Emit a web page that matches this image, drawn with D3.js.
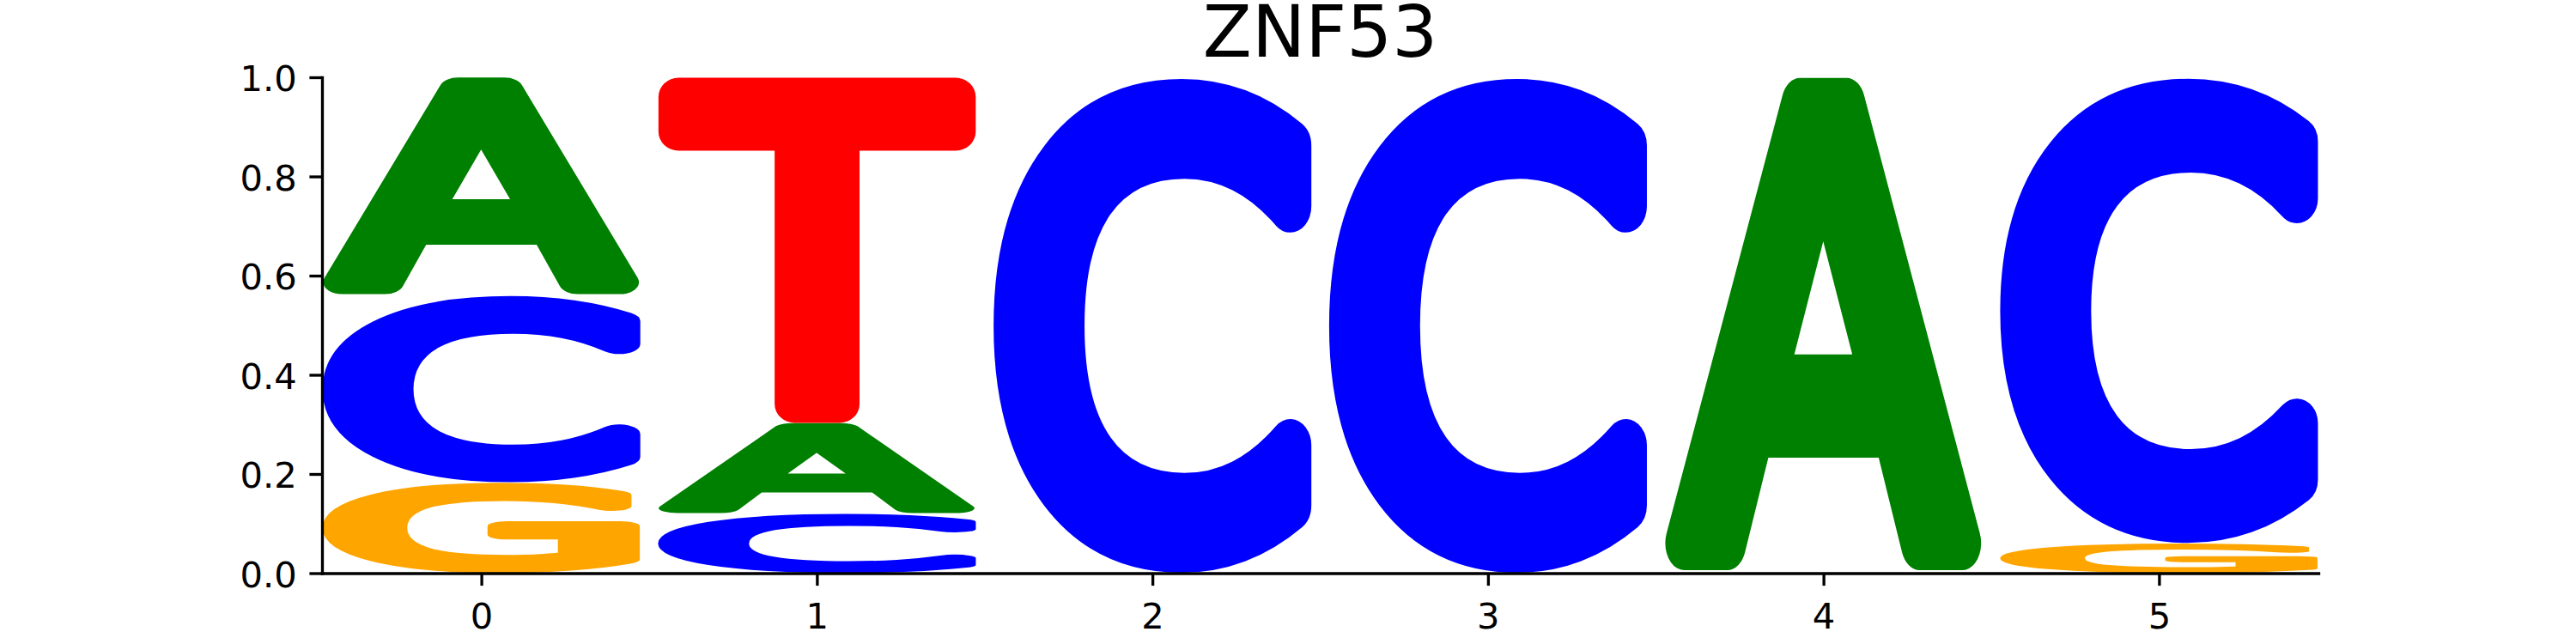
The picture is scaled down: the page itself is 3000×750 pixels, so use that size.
<!DOCTYPE html>
<html>
<head>
<meta charset="utf-8">
<script src="https://cdn.jsdelivr.net/npm/d3@7"></script>
<style>
  body { margin: 0; background: #fff; }
  svg text { font-family: "DejaVu Sans", sans-serif; }
</style>
</head>
<body>
<svg id="chart" width="3000" height="750"></svg>
<script>
const positions = [0, 1, 2, 3, 4, 5];
const letters = ["A", "C", "G", "T"];
const valuesA = [0.44, 0.183, 0, 0, 1.0, 0];
const valuesC = [0.377, 0.12, 1.0, 1.0, 0, 0.94];
const valuesG = [0.183, 0, 0, 0, 0, 0.06];
const valuesT = [0, 0.697, 0, 0, 0, 0];
const yTicks = [0, 0.2, 0.4, 0.6, 0.8, 1.0];
const title = "ZNF53";

const colors = { A: "#008000", C: "#0000ff", G: "#ffa500", T: "#ff0000" };
const seriesByLetter = { A: valuesA, C: valuesC, G: valuesG, T: valuesT };

const width = 3000, height = 750;
const margin = { left: 375, right: 300, top: 90, bottom: 82.5 };
const glyphWidth = 0.95;

const svg = d3.select("#chart");

const x = d3.scaleLinear()
  .domain([positions[0] - glyphWidth / 2, positions[positions.length - 1] + glyphWidth / 2])
  .range([margin.left, width - margin.right]);
const y = d3.scaleLinear()
  .domain([0, 1])
  .range([height - margin.bottom, margin.top]);

// glyphs: book weight plus a round-joined outline gives the soft, heavy letters
const fontSize = 200, outline = 18;
const ctx = document.createElement("canvas").getContext("2d");
ctx.font = `${fontSize}px 'DejaVu Sans'`;
const extents = {};
letters.forEach(l => {
  const m = ctx.measureText(l);
  // outline sticks out by half its width on every side
  extents[l] = {
    left: m.actualBoundingBoxLeft + outline / 2,
    right: m.actualBoundingBoxRight + outline / 2,
    ascent: m.actualBoundingBoxAscent + outline / 2,
    descent: m.actualBoundingBoxDescent + outline / 2,
  };
});

// stack letters at each position, smallest at the bottom
const stacks = [];
positions.forEach((p, i) => {
  const col = letters
    .map(l => ({ letter: l, value: seriesByLetter[l][i] }))
    .filter(d => d.value > 0)
    .sort((a, b) => a.value - b.value);
  let floor = 0;
  col.forEach(d => {
    stacks.push({ pos: p, letter: d.letter, floor: floor, ceil: floor + d.value });
    floor += d.value;
  });
});

const glyphs = svg.append("g").attr("class", "glyphs");
glyphs.selectAll("text")
  .data(stacks)
  .join("text")
  .text(d => d.letter)
  .attr("x", 0)
  .attr("y", 0)
  .attr("font-size", fontSize)
  .attr("fill", d => colors[d.letter])
  .attr("stroke", d => colors[d.letter])
  .attr("stroke-width", outline)
  .attr("stroke-linejoin", "round")
  .attr("transform", d => {
    const e = extents[d.letter];
    const x0 = x(d.pos - glyphWidth / 2), x1 = x(d.pos + glyphWidth / 2);
    const yTop = y(d.ceil), yBot = y(d.floor);
    const sx = (x1 - x0) / (e.left + e.right);
    const sy = (yBot - yTop) / (e.ascent + e.descent);
    return `translate(${x0},${yTop}) scale(${sx},${sy}) translate(${e.left},${e.ascent})`;
  });

// axes, matplotlib-like at 300 dpi
const lw = 3.33, tickLen = 14.6, tickFont = 41.7;

const xAxis = svg.append("g")
  .attr("transform", `translate(0,${y(0)})`)
  .call(d3.axisBottom(x).tickValues(positions).tickFormat(d3.format("d"))
    .tickSizeInner(tickLen).tickSizeOuter(0).tickPadding(14.6));
xAxis.select(".domain").attr("stroke-width", lw).attr("stroke", "#000")
  .attr("stroke-linecap", "square");
xAxis.selectAll(".tick line").attr("stroke-width", lw);
xAxis.selectAll(".tick text")
  .attr("font-size", tickFont)
  .attr("font-family", "DejaVu Sans")
  .attr("dy", null)
  .attr("y", 64);

const yAxis = svg.append("g")
  .attr("transform", `translate(${x.range()[0]},0)`)
  .call(d3.axisLeft(y).tickValues(yTicks).tickFormat(d3.format(".1f"))
    .tickSizeInner(tickLen).tickSizeOuter(0).tickPadding(14.6));
yAxis.select(".domain").attr("stroke-width", lw).attr("stroke", "#000")
  .attr("stroke-linecap", "square");
yAxis.selectAll(".tick line").attr("stroke-width", lw);
yAxis.selectAll(".tick text")
  .attr("font-size", tickFont)
  .attr("font-family", "DejaVu Sans")
  .attr("dy", null)
  .attr("y", 15.5);

svg.append("text")
  .attr("x", (x.range()[0] + x.range()[1]) / 2)
  .attr("y", margin.top - 24.5)
  .attr("text-anchor", "middle")
  .attr("font-size", 83.3)
  .attr("fill", "#000")
  .text(title);
</script>
</body>
</html>
